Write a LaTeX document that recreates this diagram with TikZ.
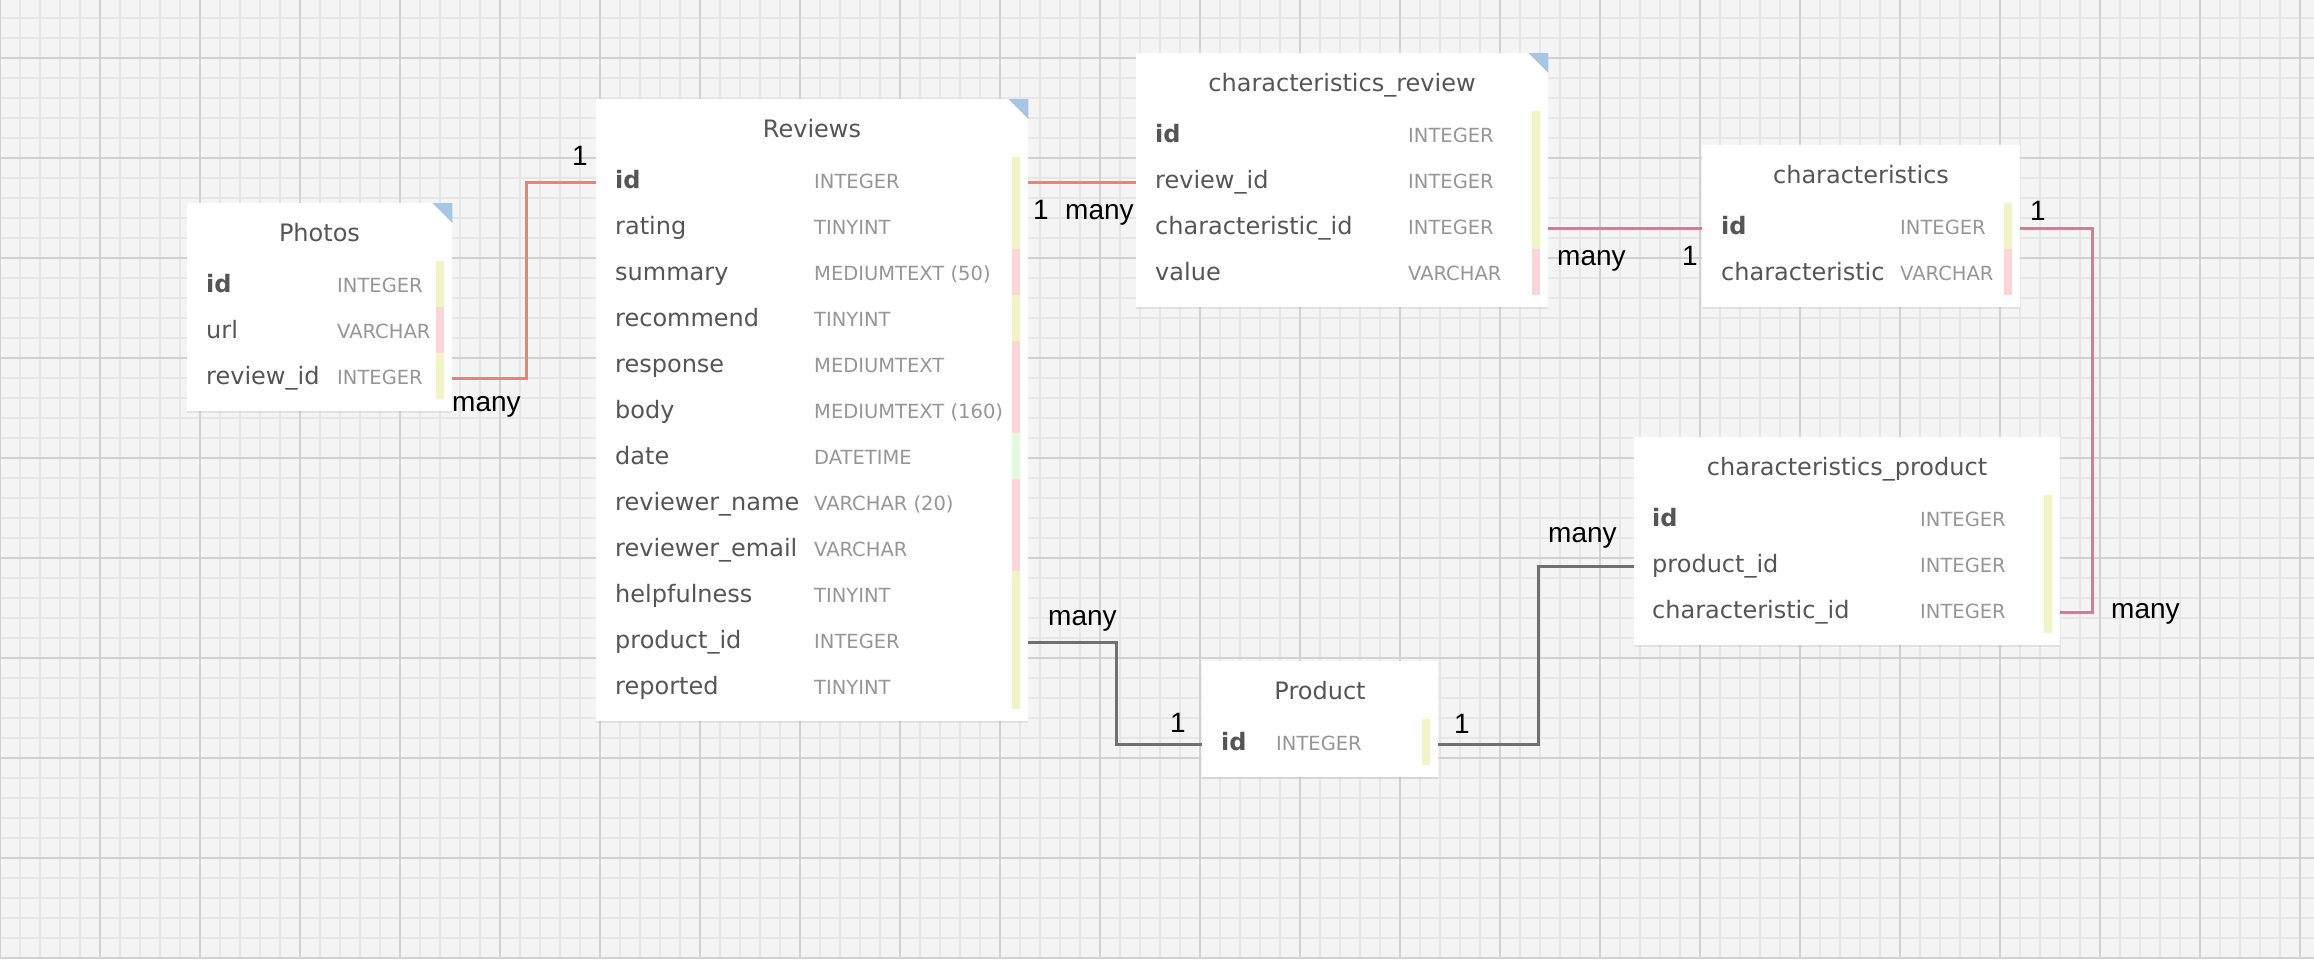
\documentclass[tikz,border=0pt]{standalone}
\usepackage{fontspec}
\setmainfont{DejaVu Sans}
\newfontfamily\cardfont{Liberation Sans}
\usepackage{tikz}
\usetikzlibrary{shadows}
\definecolor{canvascolor}{RGB}{244,244,244}
\definecolor{minorgrid}{RGB}{230,230,230}
\definecolor{majorgrid}{RGB}{210,210,210}
\definecolor{namecolor}{RGB}{85,85,85}
\definecolor{typecolor}{RGB}{150,150,150}
\definecolor{keyyellow}{RGB}{243,243,200}
\definecolor{keypink}{RGB}{250,214,214}
\definecolor{keygreen}{RGB}{226,250,220}
\definecolor{cornercolor}{RGB}{166,198,228}
\definecolor{redlink}{RGB}{236,130,118}
\definecolor{pinklink}{RGB}{228,116,148}
\definecolor{greylink}{RGB}{112,112,112}

\tikzset{
  tablebox/.style={draw=none, fill=white, anchor=north west, inner sep=0pt,
    drop shadow={shadow xshift=0pt, shadow yshift=-2pt, opacity=0.15}},
  tabletitle/.style={anchor=base, inner sep=0pt, text=namecolor, font=\fontsize{24}{28}\selectfont},
  colname/.style={anchor=base west, inner sep=0pt, text=namecolor, font=\fontsize{24}{28}\selectfont},
  coltype/.style={anchor=base west, inner sep=0pt, text=typecolor, font=\fontsize{19.5}{23}\selectfont},
  rowslot/.style={inner sep=0pt, minimum height=46pt},
  cardlabel/.style={anchor=base west, inner sep=0pt, font=\cardfont\fontsize{28}{32}\selectfont},
  link/.style={line width=3pt},
}

\begin{document}
\begin{tikzpicture}[x=1pt, y=-1pt]
    \useasboundingbox (0,0) rectangle (2314,959);

    % Canvas with grid
    \fill[canvascolor] (0,0) rectangle (2314,959);
    \foreach \gx in {0,20,...,2300} \draw[minorgrid, line width=1.5pt] (\gx,0) -- (\gx,959);
    \foreach \gy in {18,38,...,958} \draw[minorgrid, line width=1.5pt] (0,\gy) -- (2314,\gy);
    \foreach \gx in {0,100,...,2300} \draw[majorgrid, line width=2pt] (\gx,0) -- (\gx,959);
    \foreach \gy in {58,158,...,958} \draw[majorgrid, line width=2pt] (0,\gy) -- (2314,\gy);

    % Photos
    \node[tablebox, minimum width=265pt, minimum height=208pt] (pho) at (187,203) {};
    \fill[cornercolor] (pho.north east) -- ++(-20,0) -- ++(20,20) -- cycle;
    \node[tabletitle] (pho-title) at (319.5,241) {Photos};
    \foreach \nm/\ty/\bc [count=\i from 0] in {\textbf{id}/INTEGER/keyyellow, url/VARCHAR/keypink, review\_id/INTEGER/keyyellow} {
        \fill[\bc] (436,261+46*\i) rectangle ++(8,46);
        \node[rowslot, minimum width=265pt] (pho-\i) at (319.5,286+46*\i) {};
        \node[colname] at (206,292.5+46*\i) {\nm};
        \node[coltype] at (337,292.5+46*\i) {\ty};
    }

    % Reviews
    \node[tablebox, minimum width=432pt, minimum height=622pt] (rev) at (596,99) {};
    \fill[cornercolor] (rev.north east) -- ++(-20,0) -- ++(20,20) -- cycle;
    \node[tabletitle] (rev-title) at (812,137) {Reviews};
    \foreach \nm/\ty/\bc [count=\i from 0] in {\textbf{id}/INTEGER/keyyellow, rating/TINYINT/keyyellow,
        summary/{MEDIUMTEXT (50)}/keypink, recommend/TINYINT/keyyellow, response/MEDIUMTEXT/keypink,
        body/{MEDIUMTEXT (160)}/keypink, date/DATETIME/keygreen, reviewer\_name/{VARCHAR (20)}/keypink,
        reviewer\_email/VARCHAR/keypink, helpfulness/TINYINT/keyyellow, product\_id/INTEGER/keyyellow,
        reported/TINYINT/keyyellow} {
        \fill[\bc] (1012,157+46*\i) rectangle ++(8,46);
        \node[rowslot, minimum width=432pt] (rev-\i) at (812,182+46*\i) {};
        \node[colname] at (615,188.5+46*\i) {\nm};
        \node[coltype] at (814,188.5+46*\i) {\ty};
    }

    % characteristics_review
    \node[tablebox, minimum width=412pt, minimum height=254pt] (crv) at (1136,53) {};
    \fill[cornercolor] (crv.north east) -- ++(-20,0) -- ++(20,20) -- cycle;
    \node[tabletitle] (crv-title) at (1342,91) {characteristics\_review};
    \foreach \nm/\ty/\bc [count=\i from 0] in {\textbf{id}/INTEGER/keyyellow, review\_id/INTEGER/keyyellow,
        characteristic\_id/INTEGER/keyyellow, value/VARCHAR/keypink} {
        \fill[\bc] (1532,111+46*\i) rectangle ++(8,46);
        \node[rowslot, minimum width=412pt] (crv-\i) at (1342,136+46*\i) {};
        \node[colname] at (1155,142.5+46*\i) {\nm};
        \node[coltype] at (1408,142.5+46*\i) {\ty};
    }

    % characteristics
    \node[tablebox, minimum width=318pt, minimum height=162pt] (chr) at (1702,145) {};
    \node[tabletitle] (chr-title) at (1861,183) {characteristics};
    \foreach \nm/\ty/\bc [count=\i from 0] in {\textbf{id}/INTEGER/keyyellow, characteristic/VARCHAR/keypink} {
        \fill[\bc] (2004,203+46*\i) rectangle ++(8,46);
        \node[rowslot, minimum width=318pt] (chr-\i) at (1861,228+46*\i) {};
        \node[colname] at (1721,234.5+46*\i) {\nm};
        \node[coltype] at (1900,234.5+46*\i) {\ty};
    }

    % Product
    \node[tablebox, minimum width=236pt, minimum height=116pt] (prd) at (1202,661) {};
    \node[tabletitle] (prd-title) at (1320,699) {Product};
    \fill[keyyellow] (1422,719) rectangle ++(8,46);
    \node[rowslot, minimum width=236pt] (prd-0) at (1320,744) {};
    \node[colname] at (1221,750.5) {\textbf{id}};
    \node[coltype] at (1276,750.5) {INTEGER};

    % characteristics_product
    \node[tablebox, minimum width=426pt, minimum height=208pt] (cpr) at (1634,437) {};
    \node[tabletitle] (cpr-title) at (1847,475) {characteristics\_product};
    \foreach \nm/\ty/\bc [count=\i from 0] in {\textbf{id}/INTEGER/keyyellow, product\_id/INTEGER/keyyellow,
        characteristic\_id/INTEGER/keyyellow} {
        \fill[\bc] (2044,495+46*\i) rectangle ++(8,46);
        \node[rowslot, minimum width=426pt] (cpr-\i) at (1847,520+46*\i) {};
        \node[colname] at (1652,526.5+46*\i) {\nm};
        \node[coltype] at (1920,526.5+46*\i) {\ty};
    }

    % Relations
    \draw[link, redlink] (pho-2.east) -- ++(74,0) |- (rev-0.west);
    \node[cardlabel] (pho-many) at (452,411) {many};
    \node[cardlabel] (pho-one) at (572,165) {1};

    \draw[link, redlink] (rev-0.east) -- (crv-1.west);
    \node[cardlabel] (rev-one) at (1033,219) {1};
    \node[cardlabel] (crv-many) at (1065,219) {many};

    \draw[link, pinklink] (crv-2.east) -- (chr-0.west);
    \node[cardlabel] (crv2-many) at (1557,265) {many};
    \node[cardlabel] (chr-one) at (1682,265) {1};

    \draw[link, pinklink] (chr-0.east) -- ++(72,0) |- (cpr-2.east);
    \node[cardlabel] (chr2-one) at (2030,220) {1};
    \node[cardlabel] (cpr-many) at (2111,618) {many};

    \draw[link, greylink] (rev-10.east) -- ++(88,0) |- (prd-0.west);
    \node[cardlabel] (rev-many) at (1048,625) {many};
    \node[cardlabel] (prd-one) at (1170,732) {1};

    \draw[link, greylink] (prd-0.east) -- ++(100,0) |- (cpr-1.west);
    \node[cardlabel] (prd2-one) at (1454,733) {1};
    \node[cardlabel] (cpr2-many) at (1548,542) {many};

\end{tikzpicture}
\end{document}
